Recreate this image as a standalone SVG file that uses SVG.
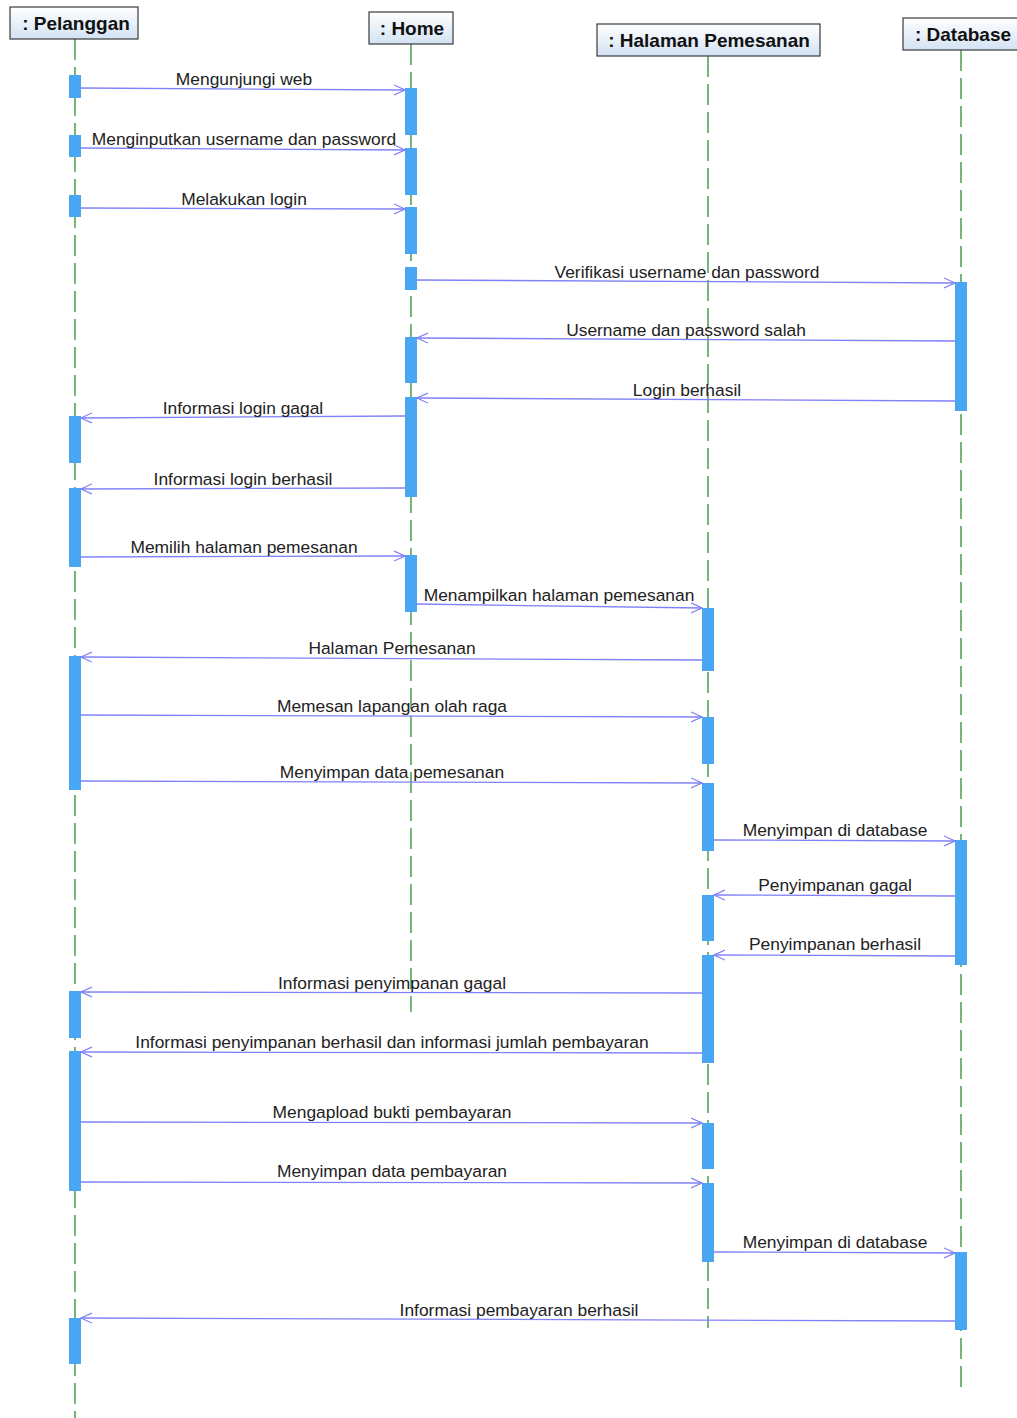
<svg xmlns="http://www.w3.org/2000/svg" width="1017" height="1418" viewBox="0 0 1017 1418">
  <defs>
    <linearGradient id="hdr" x1="0" y1="0" x2="0" y2="1">
      <stop offset="0" stop-color="#ffffff"/>
      <stop offset="1" stop-color="#d3e2f4"/>
    </linearGradient>
    <marker id="open" viewBox="0 0 12 12" refX="11" refY="6" markerWidth="12" markerHeight="12" markerUnits="userSpaceOnUse" orient="auto">
      <path d="M0,1 L11,6 L0,11" fill="none" stroke="#7f7ff7" stroke-width="1.2"/>
    </marker>
    <style>
      .box { fill: url(#hdr); stroke: #3a3a3a; stroke-width: 1.2; }
      .hdr { font-family: "Liberation Sans", Arial, sans-serif; font-size: 19px; font-weight: bold; fill: #111; text-anchor: middle; }
      .life { stroke: #2f8f2f; stroke-width: 1.3; stroke-dasharray: 21 7; fill: none; }
      .act { fill: #48a6f2; }
      .msg { stroke: #8080f8; stroke-width: 1.3; fill: none; marker-end: url(#open); }
      .lbl { font-family: "Liberation Sans", Arial, sans-serif; font-size: 17.4px; fill: #222; text-anchor: middle; }
    </style>
  </defs>
  <rect width="1017" height="1418" fill="#ffffff"/>

  <!-- lifelines -->
  <g id="lifelines">
    <line class="life" x1="75" y1="39" x2="75" y2="1418"/>
    <line class="life" x1="411" y1="44" x2="411" y2="1012"/>
    <line class="life" x1="708" y1="56" x2="708" y2="1328"/>
    <line class="life" x1="961" y1="50" x2="961" y2="1392"/>
  </g>

  <!-- participants with their activation bars -->
  <g id="pelanggan">
    <rect class="box" x="10" y="7" width="128" height="32"/>
    <text class="hdr" x="76" y="30">: Pelanggan</text>
    <rect class="act" x="69" y="75" width="12" height="23"/>
    <rect class="act" x="69" y="135" width="12" height="22"/>
    <rect class="act" x="69" y="195" width="12" height="22"/>
    <rect class="act" x="69" y="416" width="12" height="47"/>
    <rect class="act" x="69" y="488" width="12" height="79"/>
    <rect class="act" x="69" y="656" width="12" height="134"/>
    <rect class="act" x="69" y="991" width="12" height="47"/>
    <rect class="act" x="69" y="1051" width="12" height="140"/>
    <rect class="act" x="69" y="1318" width="12" height="46"/>
  </g>

  <g id="home">
    <rect class="box" x="369" y="12" width="84" height="32"/>
    <text class="hdr" x="412" y="35">: Home</text>
    <rect class="act" x="405" y="88" width="12" height="47"/>
    <rect class="act" x="405" y="148" width="12" height="47"/>
    <rect class="act" x="405" y="207" width="12" height="47"/>
    <rect class="act" x="405" y="267" width="12" height="23"/>
    <rect class="act" x="405" y="337" width="12" height="46"/>
    <rect class="act" x="405" y="397" width="12" height="100"/>
    <rect class="act" x="405" y="555" width="12" height="57"/>
  </g>

  <g id="halaman-pemesanan">
    <rect class="box" x="597" y="24" width="223" height="32"/>
    <text class="hdr" x="709" y="47">: Halaman Pemesanan</text>
    <rect class="act" x="702" y="608" width="12" height="63"/>
    <rect class="act" x="702" y="717" width="12" height="47"/>
    <rect class="act" x="702" y="783" width="12" height="68"/>
    <rect class="act" x="702" y="895" width="12" height="46"/>
    <rect class="act" x="702" y="955" width="12" height="108"/>
    <rect class="act" x="702" y="1123" width="12" height="46"/>
    <rect class="act" x="702" y="1183" width="12" height="79"/>
  </g>

  <g id="database">
    <rect class="box" x="903" y="18" width="120" height="32"/>
    <text class="hdr" x="963" y="41">: Database</text>
    <rect class="act" x="955" y="282" width="12" height="129"/>
    <rect class="act" x="955" y="840" width="12" height="125"/>
    <rect class="act" x="955" y="1252" width="12" height="78"/>
  </g>

  <!-- messages -->
  <g id="messages">
    <line class="msg" x1="81" y1="88" x2="405" y2="90"/>
    <line class="msg" x1="81" y1="148" x2="405" y2="150"/>
    <line class="msg" x1="81" y1="208" x2="405" y2="209"/>
    <line class="msg" x1="417" y1="280" x2="955" y2="283"/>
    <line class="msg" x1="955" y1="341" x2="417" y2="338"/>
    <line class="msg" x1="955" y1="401" x2="417" y2="398"/>
    <line class="msg" x1="405" y1="416" x2="81" y2="418"/>
    <line class="msg" x1="405" y1="488" x2="81" y2="489"/>
    <line class="msg" x1="81" y1="557" x2="405" y2="556"/>
    <line class="msg" x1="417" y1="604" x2="702" y2="608"/>
    <line class="msg" x1="702" y1="660" x2="81" y2="657"/>
    <line class="msg" x1="81" y1="715" x2="702" y2="717"/>
    <line class="msg" x1="81" y1="781" x2="702" y2="783"/>
    <line class="msg" x1="714" y1="840" x2="955" y2="841"/>
    <line class="msg" x1="955" y1="896" x2="714" y2="895"/>
    <line class="msg" x1="955" y1="956" x2="714" y2="955"/>
    <line class="msg" x1="702" y1="993" x2="81" y2="992"/>
    <line class="msg" x1="702" y1="1053" x2="81" y2="1052"/>
    <line class="msg" x1="81" y1="1122" x2="702" y2="1123"/>
    <line class="msg" x1="81" y1="1182" x2="702" y2="1183"/>
    <line class="msg" x1="714" y1="1252" x2="955" y2="1253"/>
    <line class="msg" x1="955" y1="1321" x2="81" y2="1318"/>
  </g>

  <!-- message labels -->
  <g id="labels">
    <text class="lbl" x="244" y="85">Mengunjungi web</text>
    <text class="lbl" x="244" y="145">Menginputkan username dan password</text>
    <text class="lbl" x="244" y="205">Melakukan login</text>
    <text class="lbl" x="687" y="278">Verifikasi username dan password</text>
    <text class="lbl" x="686" y="336">Username dan password salah</text>
    <text class="lbl" x="687" y="396">Login berhasil</text>
    <text class="lbl" x="243" y="414">Informasi login gagal</text>
    <text class="lbl" x="243" y="485">Informasi login berhasil</text>
    <text class="lbl" x="244" y="553">Memilih halaman pemesanan</text>
    <text class="lbl" x="559" y="601">Menampilkan halaman pemesanan</text>
    <text class="lbl" x="392" y="654">Halaman Pemesanan</text>
    <text class="lbl" x="392" y="712">Memesan lapangan olah raga</text>
    <text class="lbl" x="392" y="778">Menyimpan data pemesanan</text>
    <text class="lbl" x="835" y="836">Menyimpan di database</text>
    <text class="lbl" x="835" y="891">Penyimpanan gagal</text>
    <text class="lbl" x="835" y="950">Penyimpanan berhasil</text>
    <text class="lbl" x="392" y="989">Informasi penyimpanan gagal</text>
    <text class="lbl" x="392" y="1048">Informasi penyimpanan berhasil dan informasi jumlah pembayaran</text>
    <text class="lbl" x="392" y="1118">Mengapload bukti pembayaran</text>
    <text class="lbl" x="392" y="1177">Menyimpan data pembayaran</text>
    <text class="lbl" x="835" y="1248">Menyimpan di database</text>
    <text class="lbl" x="519" y="1316">Informasi pembayaran berhasil</text>
  </g>
</svg>
